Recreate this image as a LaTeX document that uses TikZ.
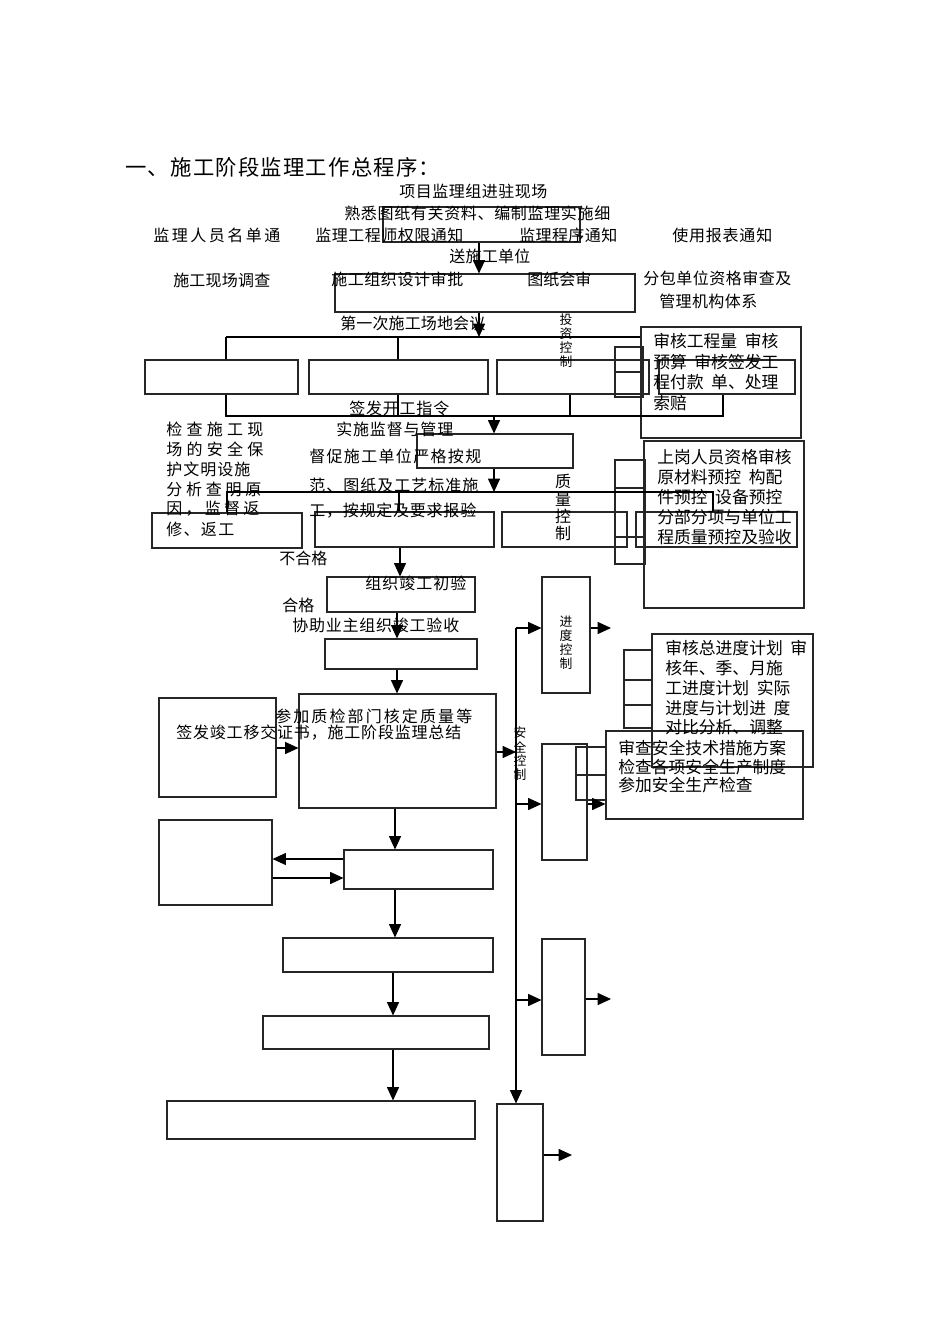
\documentclass[tikz,border=0pt]{standalone}
\usepackage{fontspec}
\setmainfont{Noto Sans CJK SC}
\usetikzlibrary{arrows.meta,fit}
\newdimen\pxu \pxu=0.75pt
\makeatletter
\def\spr@i#1#2\relax{#1\ifx\relax#2\relax\else\hfil\spr@i#2\relax\fi}
\newcommand\spr[2]{\makebox[#1\pxu][s]{\spr@i#2\relax}}
\makeatother
\newcommand\mf{\fontsize{12pt}{14pt}\selectfont}
\newcommand\vf{\fontsize{9.6pt}{11pt}\selectfont}
\newcommand\tf{\fontsize{16pt}{19pt}\selectfont}
\newcommand\rf{\fontsize{12.6pt}{15pt}\selectfont}
\newcommand\hs{\hspace{0.45em}}
\newcommand\bx[5]{\node[box, fit={(#2,#3) (#4,#5)}] (#1) {};}
\begin{document}
\begin{tikzpicture}[x=0.75pt,y=-0.75pt,
 box/.style={draw=black!85, line width=0.8pt, inner sep=0pt},
 arr/.style={-{Triangle[length=10pt,width=9pt]}, line width=0.8pt},
 ln/.style={line width=0.8pt},
 lbl/.style={anchor=west, inner sep=0pt, font=\mf},
 vch/.style={inner sep=0pt, font=\vf},
 rt/.style={anchor=west, inner sep=0pt, font=\rf}]
\useasboundingbox (0,0) rectangle (950,1344);

% ---------- boxes ----------
\bx{A}{383}{207}{580}{242}
\bx{B}{335}{274}{635}{312}
\bx{Inv1}{145}{360}{298}{394}
\bx{Inv2}{309}{360}{488}{394}
\bx{Inv3}{497}{360}{649}{394}
\bx{Inv4}{659}{360}{795}{394}
\bx{InvS}{615}{347}{643}{397}
\bx{R1}{641}{327}{801}{438}
\bx{Sup}{417}{434}{573}{468}
\bx{Q1}{152}{513}{302}{548}
\bx{Q2}{315}{512}{494}{547}
\bx{Q3}{502}{512}{627}{547}
\bx{Q4}{636}{512}{797}{547}
\bx{QS}{615}{460}{645}{564}
\bx{R2}{644}{441}{804}{608}
\bx{Init}{327}{577}{475}{612}
\bx{Acc}{325}{639}{477}{669}
\bx{Big}{299}{694}{496}{808}
\bx{Lft}{159}{698}{276}{797}
\bx{Prog}{542}{577}{590}{693}
\bx{PS}{624}{650}{652}{728}
\bx{R3}{652}{634}{813}{767}
\bx{Safe}{542}{744}{587}{860}
\bx{SS}{576}{747}{606}{800}
\bx{R4}{606}{731}{803}{819}
\bx{C}{344}{850}{493}{889}
\bx{D}{159}{820}{272}{905}
\bx{E}{283}{938}{493}{972}
\bx{F}{263}{1016}{489}{1049}
\bx{G}{167}{1101}{475}{1139}
\bx{I}{542}{939}{585}{1055}
\bx{H}{497}{1104}{543}{1221}

% inner dividers of the small boxes
\draw[box] (InvS.west |- 0,372) -- (InvS.east |- 0,372);
\draw[box] (QS.west |- 0,488) -- (QS.east |- 0,488);
\draw[box] (QS.west |- 0,537) -- (QS.east |- 0,537);
\draw[box] (PS.west |- 0,680) -- (PS.east |- 0,680);
\draw[box] (PS.west |- 0,705) -- (PS.east |- 0,705);
\draw[box] (SS.west |- 0,775) -- (SS.east |- 0,775);

% ---------- coordinates ----------
\coordinate (k479) at (479,0);
\coordinate (k494) at (494,0);
\coordinate (iL) at (226,337);
\coordinate (iM) at (479,337);
\coordinate (jL) at (226,416);
\coordinate (jR) at (723,416);
\coordinate (jM) at (494,416);
\coordinate (qL) at (227,492);
\coordinate (qM) at (494,492);
\coordinate (qR) at (713,492);
\coordinate (bus0) at (516,628);
\coordinate (busS) at (516,804);
\coordinate (busI) at (516,1000);
\coordinate (busB) at (516,752);
\coordinate (o1) at (611,628);
\coordinate (o2) at (611,999);
\coordinate (o3) at (572,1155);

% ---------- connectors ----------
\draw[arr] (A.south -| k479) -- (B.north -| k479);
\draw[arr] (B.south -| k479) -- (iM);
\draw[ln] (iL) -- (R1.west |- iL);
\draw[ln] (iL) -- (Inv1.north -| iL);
\draw[ln] (398,337) -- (Inv2.north -| 398,0);
\draw[ln] (Inv1.south -| jL) -- (jL) -- (jR) -- (Inv4.south -| jR);
\draw[ln] (Inv2.south -| 398,0) -- (398,416);
\draw[ln] (Inv3.south -| 570,0) -- (570,416);
\draw[arr] (jM) -- (Sup.north -| k494);
\draw[arr] (Sup.south -| k494) -- (qM);
\draw[ln] (Q1.north -| qL) -- (qL) -- (qR) -- (Q4.north -| qR);
\draw[ln] (399,492) -- (Q2.north -| 399,0);
\draw[arr] (Q2.south -| 400,0) -- (Init.north -| 400,0);
\draw[arr] (Init.south -| 397,0) -- (Acc.north -| 397,0);
\draw[arr] (Acc.south -| 397,0) -- (Big.north -| 397,0);
\draw[arr] (Lft.east |- 0,748) -- (Big.west |- 0,748);
\draw[arr] (Big.east |- busB) -- (busB);
\draw[ln] (bus0) -- (busB);
\draw[arr] (busB) -- (H.north -| bus0);
\draw[arr] (bus0) -- (Prog.west |- bus0);
\draw[arr] (Prog.east |- o1) -- (o1);
\draw[arr] (busS) -- (Safe.west |- busS);
\draw[arr] (Safe.east |- 0,804) -- (R4.west |- 0,804);
\draw[arr] (busI) -- (I.west |- busI);
\draw[arr] (I.east |- o2) -- (o2);
\draw[arr] (H.east |- o3) -- (o3);
\draw[arr] (Big.south -| 395,0) -- (C.north -| 395,0);
\draw[arr] (C.west |- 0,859) -- (D.east |- 0,859);
\draw[arr] (D.east |- 0,878) -- (C.west |- 0,878);
\draw[arr] (C.south -| 395,0) -- (E.north -| 395,0);
\draw[arr] (E.south -| 393,0) -- (F.north -| 393,0);
\draw[arr] (F.south -| 393,0) -- (G.north -| 393,0);

% ---------- texts ----------
\node[lbl, font=\tf] (title) at (125,167) {\spr{315}{一、施工阶段监理工作总程序：}};
\node[lbl] (t1) at (399,191) {\spr{148}{项目监理组进驻现场}};
\node[lbl] (t2) at (344,213) {\spr{266}{熟悉图纸有关资料、编制监理实施细}};
\node[lbl] (t3) at (153,235) {\spr{127}{监理人员名单通}};
\node[lbl] (t4) at (315,235) {\spr{148}{监理工程师权限通知}};
\node[lbl] (t5) at (519,235) {\spr{98}{监理程序通知}};
\node[lbl] (t6) at (672,235) {\spr{100}{使用报表通知}};
\node[lbl] (t7) at (449,256) {\spr{81}{送施工单位}};
\node[lbl] (t8) at (173,280) {\spr{97}{施工现场调查}};
\node[lbl] (t9) at (331,279) {\spr{132}{施工组织设计审批}};
\node[lbl] (t10) at (527,279) {\spr{64}{图纸会审}};
\node[lbl] (t11) at (643,278) {\spr{148}{分包单位资格审查及}};
\node[lbl] (t12) at (659,301) {\spr{98}{管理机构体系}};
\node[lbl] (t13) at (340,323) {\spr{145}{第一次施工场地会议}};
\node[lbl] (t14) at (349,408) {\spr{100}{签发开工指令}};
\node[lbl] (t15) at (336,429) {\spr{117}{实施监督与管理}};
\node[lbl] (t16) at (166,429) {\spr{97}{检查施工现}};
\node[lbl] (t17) at (166,449) {\spr{97}{场的安全保}};
\node[lbl] (t18) at (166,469) {\spr{84}{护文明设施}};
\node[lbl] (t19) at (166,489) {\spr{95}{分析查明原}};
\node[lbl] (t20) at (166,509) {\spr{93}{因，监督返}};
\node[lbl] (t21) at (166,529) {\spr{68}{修、返工}};
\node[lbl] (t22) at (309,456) {\spr{172}{督促施工单位严格按规}};
\node[lbl] (t23) at (309,485) {\spr{169}{范、图纸及工艺标准施}};
\node[lbl] (t24) at (309,511) {\spr{167}{工，按规定及要求报验}};
\node[lbl] (t25) at (279,558) {\spr{48}{不合格}};
\node[lbl] (t26) at (365,583) {\spr{101}{组织竣工初验}};
\node[lbl] (t27) at (282,605) {\spr{32}{合格}};
\node[lbl] (t28) at (292,625) {\spr{167}{协助业主组织竣工验收}};
\node[lbl] (t29) at (275,716) {\spr{197}{参加质检部门核定质量等}};
\node[lbl] (t30) at (176,733) {\spr{285}{签发竣工移交证书，施工阶段监理总结}};

% vertical labels
\node[vch] (va1) at (566,320) {投};
\node[vch] (va2) at (566,334) {资};
\node[vch] (va3) at (566,348) {控};
\node[vch] (va4) at (566,362) {制};
\node[vch, font=\mf] (vb1) at (563,481) {质};
\node[vch, font=\mf] (vb2) at (563,499) {量};
\node[vch, font=\mf] (vb3) at (563,516) {控};
\node[vch, font=\mf] (vb4) at (563,533) {制};
\node[vch] (vc1) at (566,622) {进};
\node[vch] (vc2) at (566,636) {度};
\node[vch] (vc3) at (566,650) {控};
\node[vch] (vc4) at (566,664) {制};
\node[vch] (vd1) at (520,733) {安};
\node[vch] (vd2) at (520,747) {全};
\node[vch] (vd3) at (520,761) {控};
\node[vch] (vd4) at (520,775) {制};

% right-hand text boxes
\node[rt] (r1a) at (653,341) {审核工程量\hs 审核};
\node[rt] (r1b) at (653,362) {预算\hs 审核签发工};
\node[rt] (r1c) at (653,382) {程付款\hs 单、处理};
\node[rt] (r1d) at (653,403) {索赔};
\node[rt] (r2a) at (657,457) {上岗人员资格审核};
\node[rt] (r2b) at (657,477) {原材料预控\hs 构配};
\node[rt] (r2c) at (657,497) {件预控\hs 设备预控};
\node[rt] (r2d) at (657,517) {分部分项与单位工};
\node[rt] (r2e) at (657,537) {程质量预控及验收};
\node[rt] (r3a) at (665,648) {审核总进度计划\hs 审};
\node[rt] (r3b) at (665,668) {核年、季、月施};
\node[rt] (r3c) at (665,688) {工进度计划\hs 实际};
\node[rt] (r3d) at (665,708) {进度与计划进\hs 度};
\node[rt] (r3e) at (665,727) {对比分析、调整};
\node[rt] (r4a) at (618,748) {审查安全技术措施方案};
\node[rt] (r4b) at (618,767) {检查各项安全生产制度};
\node[rt] (r4c) at (618,785) {参加安全生产检查};
\end{tikzpicture}
\end{document}
